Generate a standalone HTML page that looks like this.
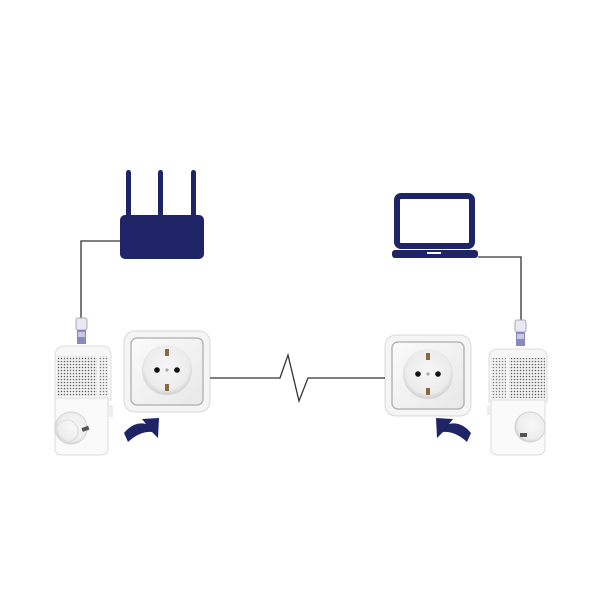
<!DOCTYPE html>
<html><head><meta charset="utf-8"><style>html,body{margin:0;padding:0;background:#fff}svg{display:block}</style></head>
<body>
<svg width="600" height="600" viewBox="0 0 600 600" xmlns="http://www.w3.org/2000/svg">
<defs>
<pattern id="dots" width="3" height="3" patternUnits="userSpaceOnUse">
<rect width="3" height="3" fill="#f2f2f2"/><circle cx="1.5" cy="1.5" r="0.8" fill="#666"/>
</pattern>
<linearGradient id="plate" x1="0" y1="0" x2="1" y2="1"><stop offset="0" stop-color="#fbfbfb"/><stop offset="1" stop-color="#e8e8e8"/></linearGradient>
<radialGradient id="cup" cx="0.5" cy="0.45" r="0.55"><stop offset="0" stop-color="#f7f7f7"/><stop offset="0.8" stop-color="#ececec"/><stop offset="1" stop-color="#cfcfcf"/></radialGradient>
<g id="socket">
<rect x="0" y="0" width="86" height="81" rx="11" fill="#f5f5f5" stroke="#d8d8d8"/>
<rect x="7" y="7" width="72" height="67" rx="6" fill="url(#plate)" stroke="#b8b8b8" stroke-width="1.5"/>
<circle cx="43" cy="39" r="25" fill="url(#cup)"/>
<circle cx="33" cy="39" r="2.8" fill="#111"/><circle cx="53" cy="39" r="2.8" fill="#111"/>
<circle cx="43" cy="39" r="1.6" fill="#aaa"/>
<rect x="41" y="18" width="4" height="7" fill="#8a6a3a"/><rect x="41" y="53" width="4" height="7" fill="#8a6a3a"/>
</g>
<g id="plug">
<rect x="0" y="0" width="11" height="12" rx="2" fill="#e8e8f2" stroke="#aab"/>
<rect x="1" y="12" width="9" height="14" fill="#8a88c0"/>
<rect x="2" y="14" width="7" height="5" fill="#c8c8e0"/>
</g>
<radialGradient id="acup" cx="0.55" cy="0.45" r="0.6"><stop offset="0" stop-color="#f8f8f8"/><stop offset="0.75" stop-color="#ededed"/><stop offset="1" stop-color="#c8c8c8"/></radialGradient>
</defs>

<!-- router -->
<g fill="#1e2466">
<rect x="126" y="170" width="5" height="50" rx="2.5"/>
<rect x="158" y="170" width="5" height="50" rx="2.5"/>
<rect x="191" y="170" width="5" height="50" rx="2.5"/>
<rect x="120" y="215" width="84" height="44" rx="5"/>
</g>
<polyline points="120,241 81,241 81,320" fill="none" stroke="#333" stroke-width="1.3"/>
<use href="#plug" x="76" y="318"/>

<!-- laptop -->
<rect x="397" y="196" width="75" height="50" rx="4" fill="#fff" stroke="#1e2466" stroke-width="6"/>
<rect x="392" y="250" width="86" height="8" rx="3" fill="#1e2466"/>
<rect x="427" y="252" width="14" height="2" fill="#fff"/>
<polyline points="478,257 521,257 521,322" fill="none" stroke="#333" stroke-width="1.3"/>
<use href="#plug" x="515" y="320"/>

<!-- left adapter -->
<path d="M55,355 Q55,347 64,346 L104,346 Q111,347 111,355 L111,400 L55,400 Z" fill="#f6f6f6" stroke="#ddd"/>
<rect x="57" y="356" width="40" height="40" fill="url(#dots)"/>
<rect x="99" y="356" width="9" height="40" fill="url(#dots)" opacity="0.8"/>
<path d="M55,398 L108,398 L108,448 Q108,455 100,455 L62,455 Q55,455 55,448 Z" fill="#fafafa" stroke="#ddd"/>
<rect x="108" y="405" width="5" height="12" fill="#eee"/>
<circle cx="71" cy="428" r="16" fill="url(#acup)" stroke="#d4d4d4"/>
<circle cx="67" cy="431" r="11" fill="none" stroke="#ddd"/>
<rect x="82" y="427" width="7" height="4" fill="#555" transform="rotate(-20 85 429)"/>

<!-- right adapter -->
<path d="M489,358 Q489,350 497,349 L540,349 Q547,350 547,358 L547,402 L489,402 Z" fill="#f6f6f6" stroke="#ddd"/>
<rect x="509" y="358" width="36" height="40" fill="url(#dots)"/>
<rect x="491" y="358" width="15" height="40" fill="url(#dots)" opacity="0.8"/>
<path d="M491,400 L545,400 L545,448 Q545,455 537,455 L498,455 Q491,455 491,448 Z" fill="#fafafa" stroke="#ddd"/>
<rect x="487" y="405" width="5" height="10" fill="#eee"/>
<circle cx="530" cy="427" r="15" fill="url(#acup)" stroke="#d4d4d4"/>
<rect x="520" y="433" width="7" height="4" fill="#555"/>

<!-- sockets -->
<use href="#socket" x="124" y="331"/>
<use href="#socket" x="385" y="335"/>

<!-- line -->
<polyline points="210,378 280,378 288,355 299,401 308,378 385,378" fill="none" stroke="#333" stroke-width="1.3"/>

<!-- arrows -->
<path d="M124,433 Q134,421 146,424 L142,419 L159,418 L158,438 L152,432 Q140,431 128,442 Z" fill="#1e2466"/>
<path d="M471,433 Q461,421 449,424 L453,419 L436,418 L437,438 L443,432 Q455,431 467,442 Z" fill="#1e2466"/>
</svg>
</body></html>
